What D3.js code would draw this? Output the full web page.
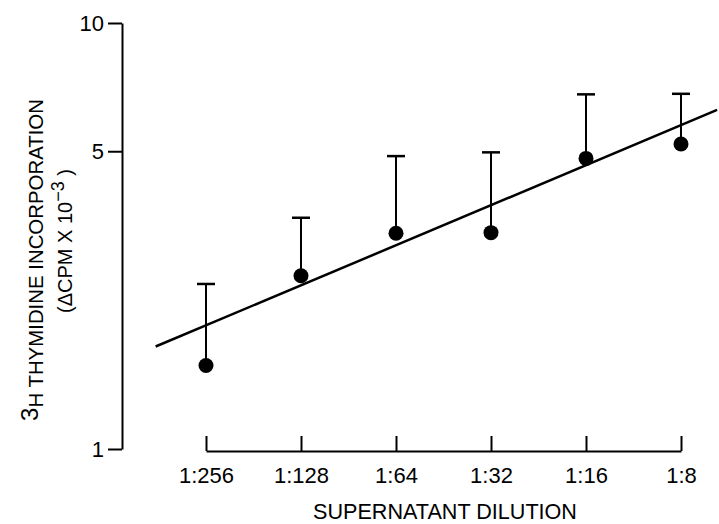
<!DOCTYPE html>
<html>
<head>
<meta charset="utf-8">
<script src="https://cdn.jsdelivr.net/npm/d3@7"></script>
<style>
  body { margin: 0; background: #fff; }
  svg text { font-family: "Liberation Sans", Arial, sans-serif; fill: #000; }
</style>
</head>
<body>
<svg id="chart" width="719" height="524"></svg>
<script>
// dilution labels and their log2 positions
const dilutions = ["1:256", "1:128", "1:64", "1:32", "1:16", "1:8"];
const log2Dilution = [-8, -7, -6, -5, -4, -3];
// mean incorporation and top of error bar (CPM x 10^-3)
const means = [1.57, 2.55, 3.21, 3.22, 4.81, 5.20];
const upper = [2.44, 3.49, 4.87, 4.97, 6.80, 6.82];
// regression line end points
const fitX = [-8.53, -2.62];
const fitY = [1.74, 6.25];
const yTicks = [1, 5, 10];

const svg = d3.select("#chart");

// scales
const x = d3.scaleLinear().domain([-8, -3]).range([206, 681]);
const y = d3.scaleLog().domain([1, 10]).range([449, 23]);

// y axis
const yAxis = svg.append("g")
  .attr("transform", "translate(122,0)")
  .call(d3.axisLeft(y).tickValues(yTicks).tickFormat(d3.format("d"))
    .tickSize(14).tickSizeOuter(0).tickPadding(4));
yAxis.select(".domain").attr("stroke-width", 2);
yAxis.selectAll(".tick line").attr("stroke-width", 2);
yAxis.selectAll("text").style("font-size", "22px");

// x axis (ticks pointing up, labels below)
const xAxis = svg.append("g")
  .attr("transform", "translate(0,451)")
  .call(d3.axisBottom(x).tickValues(log2Dilution)
    .tickFormat((d, i) => dilutions[i])
    .tickSize(-15).tickSizeOuter(0).tickPadding(16));
xAxis.select(".domain").attr("stroke-width", 2);
xAxis.selectAll(".tick line").attr("stroke-width", 2);
xAxis.selectAll("text").style("font-size", "22px");

// x axis title
svg.append("text")
  .attr("x", 445)
  .attr("y", 519)
  .attr("text-anchor", "middle")
  .style("font-size", "21.6px")
  .text("SUPERNATANT DILUTION");

// y axis title, two lines
const yt1 = svg.append("text")
  .attr("transform", "translate(43,260) rotate(-90)")
  .attr("text-anchor", "middle")
  .style("font-size", "20.4px");
yt1.append("tspan").attr("dy", -5).style("font-size", "24px").text("3");
yt1.append("tspan").attr("dy", 5).text("H THYMIDINE INCORPORATION");

const yt2 = svg.append("text")
  .attr("transform", "translate(72,241) rotate(-90)")
  .attr("text-anchor", "middle")
  .style("font-size", "20px");
yt2.append("tspan").text("(\u0394CPM X 10");
yt2.append("tspan").attr("dy", -8).style("font-size", "18px").text("\u22123");
yt2.append("tspan").attr("dy", 8).text(" )");

// regression line
const fitLine = d3.line()
  .x(d => x(d[0]))
  .y(d => y(d[1]));
svg.append("path")
  .datum(d3.zip(fitX, fitY))
  .attr("fill", "none")
  .attr("stroke", "#000")
  .attr("stroke-width", 2.5)
  .attr("d", fitLine);

const pts = d3.zip(log2Dilution, means, upper);

// error bars
svg.selectAll(".bar")
  .data(pts)
  .join("line")
  .attr("class", "bar")
  .attr("x1", d => x(d[0]))
  .attr("x2", d => x(d[0]))
  .attr("y1", d => y(d[1]))
  .attr("y2", d => y(d[2]))
  .attr("stroke", "#000")
  .attr("stroke-width", 2);

svg.selectAll(".cap")
  .data(pts)
  .join("line")
  .attr("class", "cap")
  .attr("x1", d => x(d[0]) - 9)
  .attr("x2", d => x(d[0]) + 9)
  .attr("y1", d => y(d[2]))
  .attr("y2", d => y(d[2]))
  .attr("stroke", "#000")
  .attr("stroke-width", 2.5);

// points
svg.selectAll(".dot")
  .data(pts)
  .join("circle")
  .attr("class", "dot")
  .attr("cx", d => x(d[0]))
  .attr("cy", d => y(d[1]))
  .attr("r", 7.5)
  .attr("fill", "#000");
</script>
</body>
</html>
